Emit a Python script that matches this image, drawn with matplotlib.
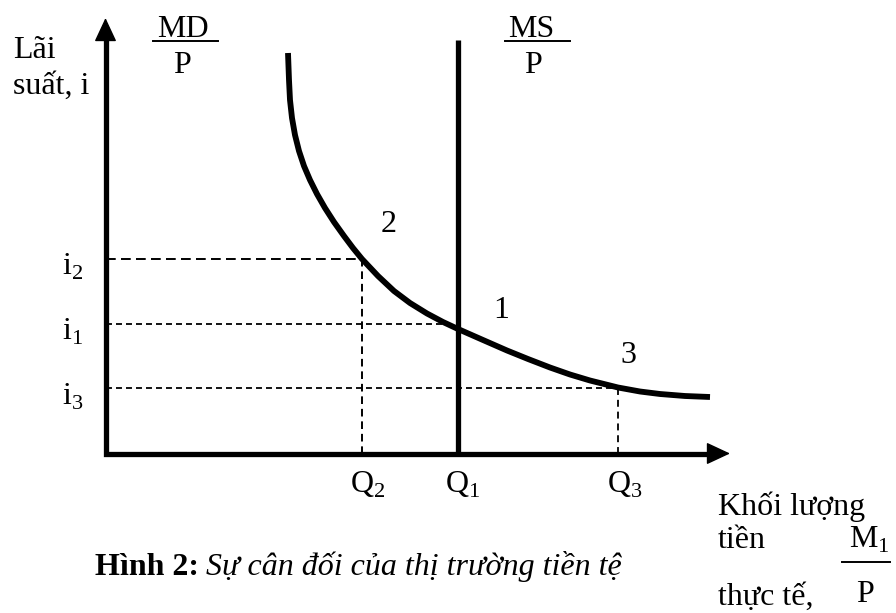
import matplotlib
matplotlib.use('Agg')
import matplotlib.pyplot as plt

# money demand curve MD/P (quantity, interest)
md_q = [18.25, 18.35, 18.45, 18.65, 18.95, 19.35, 19.85, 20.45, 21.15, 21.95,
        22.85, 23.85, 24.75, 25.65, 27.25, 28.85, 30.45, 32.15, 33.75, 35.25,
        37.75, 40.15, 42.25, 44.45, 46.45, 48.45, 51.25, 53.45, 55.45, 57.95,
        60.45]
md_i = [40.05, 37.35, 35.35, 33.55, 31.85, 30.25, 28.75, 27.35, 25.95, 24.55,
        23.15, 21.75, 20.55, 19.45, 17.75, 16.25, 15.05, 14.0, 13.15, 12.45,
        11.35, 10.3, 9.45, 8.6, 7.9, 7.3, 6.6, 6.2, 5.95, 5.75,
        5.65]

# money supply MS/P (vertical)
ms_q = 35.25
ms_top = 41.35

# levels for points 2, 1, 3
q_levels = {'2': 25.65, '1': 35.25, '3': 51.25}
i_levels = {'2': 19.5, '1': 12.95, '3': 6.55}

x_axis_end = 62.45
y_axis_end = 43.55

plt.rcParams['font.family'] = ['Liberation Serif', 'DejaVu Serif']
plt.rcParams['mathtext.fontset'] = 'custom'
plt.rcParams['mathtext.rm'] = 'Liberation Serif'
plt.rcParams['lines.scale_dashes'] = False

fig = plt.figure(figsize=(8.96, 6.13), dpi=100)
ax = fig.add_axes([0, 0, 1, 1])
ax.set_xlim(-10.55, 79.05)
ax.set_ylim(-15.95, 45.35)
ax.axis('off')

# axes with arrows
ax.plot([0, 0, x_axis_end - 1.5], [y_axis_end - 1.5, 0, 0], color='black',
        lw=3.8, solid_joinstyle='miter', solid_capstyle='butt')
arrow = dict(arrowstyle='-|>,head_length=0.75,head_width=0.35', color='black',
             lw=1, mutation_scale=20, shrinkA=0, shrinkB=0)
ax.annotate('', xy=(0, y_axis_end), xytext=(0, y_axis_end - 2.5), arrowprops=arrow)
ax.annotate('', xy=(x_axis_end, 0), xytext=(x_axis_end - 2.5, 0), arrowprops=arrow)

# dashed guide lines
ax.plot([0, q_levels['2']], [i_levels['2']] * 2, color='black', lw=1.4, ls=(0, (7, 3.8)))
ax.plot([q_levels['2']] * 2, [0, i_levels['2']], color='black', lw=1.4, ls=(0, (5.5, 3.5)))
ax.plot([0, q_levels['1']], [i_levels['1']] * 2, color='black', lw=1.3, ls=(0, (4.3, 2.9)))
ax.plot([0, q_levels['3']], [i_levels['3']] * 2, color='black', lw=1.3, ls=(0, (4.3, 2.9)))
ax.plot([q_levels['3']] * 2, [0, i_levels['3']], color='black', lw=1.3, ls=(0, (5, 3.5)))

# MS and MD
ax.plot([ms_q, ms_q], [0, ms_top], color='black', lw=3.8, solid_capstyle='butt')
ax.plot(md_q, md_i, color='black', lw=4.2, solid_capstyle='butt',
        solid_joinstyle='round')

fs = 23
# y label
ax.text(-9.25, 39.55, 'Lãi', fontsize=fs, va='baseline')
ax.text(-9.25, 35.95, 'suất, i', fontsize=fs, va='baseline')

# MD / P and MS / P labels
ax.text(7.75, 41.65, 'MD', fontsize=fs, ha='center', va='baseline')
ax.plot([4.75, 11.25], [41.25, 41.25], color='black', lw=1.4)
ax.text(7.65, 38.05, 'P', fontsize=fs, ha='center', va='baseline')
ax.text(42.6, 41.65, 'MS', fontsize=fs, ha='center', va='baseline')
ax.plot([39.95, 46.45], [41.25, 41.25], color='black', lw=1.4)
ax.text(42.75, 38.05, 'P', fontsize=fs, ha='center', va='baseline')

# i and Q tick labels
for k, base in zip(['2', '1', '3'], [17.85, 11.35, 4.85]):
    ax.text(-4.35, base, r'i$_\mathregular{%s}$' % k, fontsize=fs, va='baseline')
for k, left in zip(['2', '1', '3'], [24.45, 33.95, 50.15]):
    ax.text(left, -3.95, r'Q$_\mathregular{%s}$' % k, fontsize=fs, va='baseline')

# point numbers
ax.text(28.3, 22.15, '2', fontsize=fs, ha='center', va='baseline')
ax.text(39.55, 13.55, '1', fontsize=fs, ha='center', va='baseline')
ax.text(52.3, 9.05, '3', fontsize=fs, ha='center', va='baseline')

# x label
ax.text(61.25, -6.15, 'Khối lượng', fontsize=fs, va='baseline')
ax.text(61.25, -9.45, 'tiền', fontsize=fs, va='baseline')
ax.text(61.25, -15.15, 'thực tế,', fontsize=fs, va='baseline')
ax.text(74.3, -9.45, r'M$_\mathregular{1}$', fontsize=fs, va='baseline')
ax.plot([73.65, 78.45], [-10.85, -10.85], color='black', lw=1.4)
ax.text(75.05, -14.85, 'P', fontsize=fs, va='baseline')

# caption
cap = ax.text(-1.05, -12.15, 'Hình 2:', fontsize=fs, fontweight='bold', va='baseline')
ax.annotate('Sự cân đối của thị trường tiền tệ', xy=(1, 0), xycoords=cap,
            xytext=(5, 0), textcoords='offset points', fontsize=fs,
            fontstyle='italic', va='bottom')

fig.savefig('out.png', dpi=100)
